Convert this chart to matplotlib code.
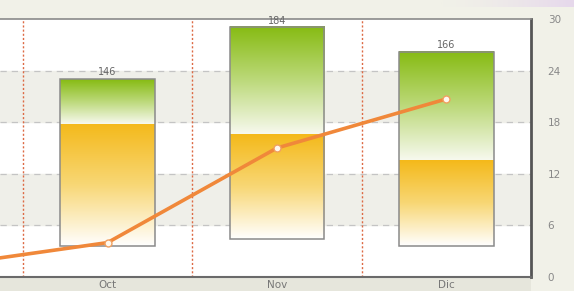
import matplotlib.pyplot as plt
import numpy as np
from matplotlib.colors import LinearSegmentedColormap

# ------------------------------------------------------------
# data
# ------------------------------------------------------------
months = ["Sep", "Oct", "Nov", "Dic"]          # Sep lies just left of the visible area
bar_months = ["Oct", "Nov", "Dic"]
bar_low = [23, 28, 23]                          # floating bar base (hidden left scale)
bar_mid = [113, 105, 86]                        # orange / green boundary
bar_top = [146, 184, 166]                       # bar totals (labelled)
line_values = [1.2, 4.0, 15.0, 20.7]           # right axis series
right_ticks = [0, 6, 12, 18, 24, 30]

W, H = 574, 291
fig = plt.figure(figsize=(W / 100, H / 100), dpi=100, facecolor="#f1f1e8")

# bottom strip slightly darker
fig.patches.append(plt.Rectangle((0, 0), 531 / W, 14 / H, transform=fig.transFigure,
                                 facecolor="#e6e6dc", edgecolor="none", zorder=0))
# faint lavender glow at the top right
glow = np.linspace(0, 1, 200)[None, :] ** 1.5
gax = fig.add_axes([440 / W, 1 - 7 / H, 134 / W, 7 / H])
gax.imshow(glow, aspect="auto", cmap=LinearSegmentedColormap.from_list("g", ["#f1f1e8", "#e6d8ec"]),
           extent=(0, 1, 0, 1))
gax.axis("off")

rect = [0, 14 / H, 531 / W, 258 / H]
xlim = (0.365, 3.5)

# background layer: bands, grid, right scale
bg = fig.add_axes(rect, zorder=1)
bg.set_facecolor("white")
bg.set_xlim(*xlim)
bg.set_ylim(0, 30)
for lo, hi in [(6, 12), (18, 24)]:
    bg.axhspan(lo, hi, color="#efefe9", zorder=0)
for t in right_ticks[1:-1]:
    bg.axhline(t, color="#c4c4c4", lw=0.9, ls=(0, (5, 4)), zorder=1)
for b in [0.5, 1.5, 2.5]:
    bg.axvline(b, color="#dd6a44", lw=1.0, ls=(0, (1.5, 1.5)), zorder=1)
bg.yaxis.tick_right()
bg.set_yticks(right_ticks)
bg.set_yticklabels([str(t) for t in right_ticks], fontsize=7.5, color="#888888")
bg.tick_params(axis="y", length=0, pad=12)
bg.set_xticks(range(1, len(months)))
bg.set_xticklabels(months[1:], fontsize=7.5, color="#777777")
bg.tick_params(axis="x", length=0, pad=2)
bg.spines["left"].set_visible(False)
bg.spines["top"].set_color("#8a8a8a")
bg.spines["top"].set_linewidth(1.2)
bg.spines["bottom"].set_color("#6a6a6a")
bg.spines["bottom"].set_linewidth(1.5)
bg.spines["right"].set_color("#555555")
bg.spines["right"].set_linewidth(2.0)

# bar layer (hidden left scale)
ax = fig.add_axes(rect, zorder=2)
ax.patch.set_visible(False)
ax.axis("off")

orange = LinearSegmentedColormap.from_list("o", ["#ffffff", "#f8d775", "#f4b91a"])
green = LinearSegmentedColormap.from_list("gr", ["#f7f9ee", "#bcd97a", "#86bb12"])
grad = np.linspace(0, 1, 256)[:, None]

width = 0.56
for name, lo, mid, top in zip(bar_months, bar_low, bar_mid, bar_top):
    x = months.index(name)
    x0, x1 = x - width / 2, x + width / 2
    ax.imshow(grad, cmap=orange, aspect="auto", origin="lower",
              extent=(x0, x1, lo, mid), zorder=2)
    ax.imshow(grad, cmap=green, aspect="auto", origin="lower",
              extent=(x0, x1, mid, top), zorder=2)
    ax.add_patch(plt.Rectangle((x0, lo), width, top - lo, facecolor="none",
                               edgecolor="#8a8a8a", lw=1.1, zorder=3))
    ax.text(x, top + 1.2, str(top), ha="center", va="bottom", fontsize=7,
            color="#666666", zorder=4)
ax.set_xlim(*xlim)
ax.set_ylim(0, 190)

# line layer (right scale)
lx = fig.add_axes(rect, zorder=3)
lx.patch.set_visible(False)
lx.axis("off")
xs = np.arange(len(months))
lx.plot(xs, line_values, color="#f0883a", lw=2.6, zorder=5, solid_capstyle="round")
lx.plot(xs, line_values, "o", ms=5, mfc="#fff8ee", mec="#f0a060", mew=1.0, zorder=6)
lx.set_xlim(*xlim)
lx.set_ylim(0, 30)

fig.savefig("out.png", dpi=100, facecolor=fig.get_facecolor())
